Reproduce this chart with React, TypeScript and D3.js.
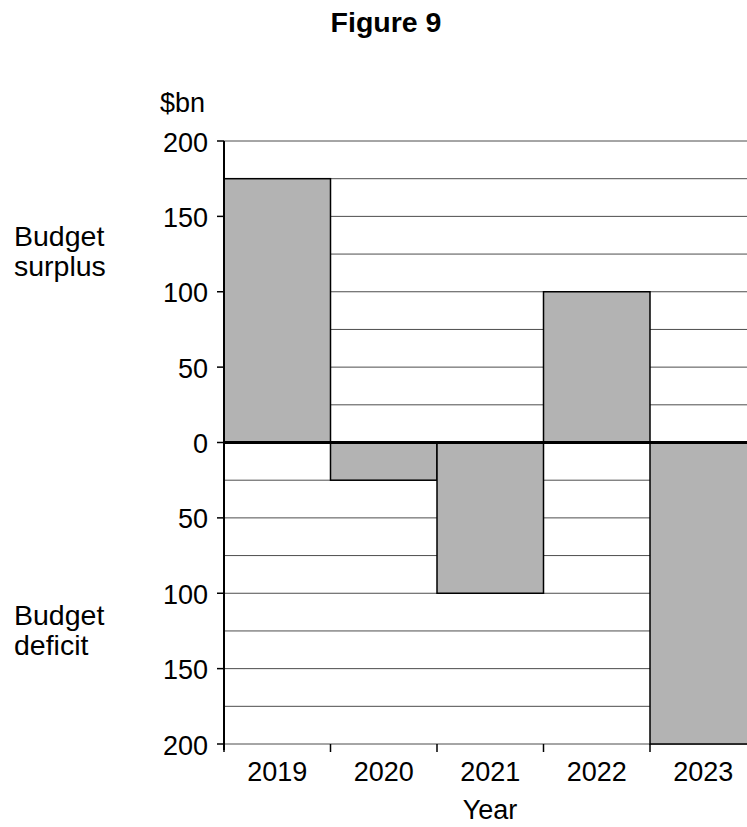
import React from "react";
import * as d3 from "d3";

const years = ["2019", "2020", "2021", "2022", "2023"];
const balance = [175, -25, -100, 100, -200];
const majorTicks = [200, 150, 100, 50, 0, -50, -100, -150, -200];
const majorTickLabels = ["200", "150", "100", "50", "0", "50", "100", "150", "200"];
const gridValues = d3.range(-200, 201, 25);

const W = 747;
const H = 827;
const left = 224;
const bandW = 106.5;
const top = 141;
const bottom = 744;
const font = "'Liberation Sans', Arial, sans-serif";
const fs = 27;

export default function App() {
  const x = d3.scaleBand<string>().domain(years).range([left, left + bandW * years.length]).padding(0);
  const y = d3.scaleLinear().domain([-200, 200]).range([bottom, top]);
  const boundaries = years.map((yr) => x(yr) as number);

  return (
    <svg width={W} height={H} style={{ position: "absolute", left: 0, top: 0, background: "#fff" }}>
      <text x={386} y={32} textAnchor="middle" fontFamily={font} fontWeight="bold" fontSize={28.5}>
        Figure 9
      </text>
      <text x={160} y={112} fontFamily={font} fontSize={fs}>$bn</text>
      <text fontFamily={font} fontSize={28.5}>
        <tspan x={14} y={246}>Budget</tspan>
        <tspan x={14} y={276}>surplus</tspan>
      </text>
      <text fontFamily={font} fontSize={28.5}>
        <tspan x={14} y={625}>Budget</tspan>
        <tspan x={14} y={655}>deficit</tspan>
      </text>

      {gridValues.filter((v) => v !== 0).map((v) => (
        <line key={"g" + v} x1={left} x2={W + 20} y1={y(v)} y2={y(v)} stroke="#4d4d4d" strokeWidth={1} />
      ))}

      {years.map((yr, i) => {
        const v = balance[i];
        const y0 = y(Math.max(0, v));
        const y1 = y(Math.min(0, v));
        return (
          <rect key={yr} x={x(yr)} y={y0} width={x.bandwidth()} height={y1 - y0}
            fill="#b3b3b3" stroke="#000" strokeWidth={1.5} />
        );
      })}

      <line x1={left} x2={W + 20} y1={y(0)} y2={y(0)} stroke="#000" strokeWidth={3} />
      <line x1={left} x2={left} y1={y(200)} y2={bottom + 6} stroke="#000" strokeWidth={2} />

      {majorTicks.map((v, i) => (
        <g key={"t" + i}>
          <line x1={left - 7} x2={left} y1={y(v)} y2={y(v)} stroke="#000" strokeWidth={1.5} />
          <text x={208} y={y(v) + 10.5} textAnchor="end" fontFamily={font} fontSize={fs}>
            {majorTickLabels[i]}
          </text>
        </g>
      ))}

      {boundaries.map((bx, i) => (
        <line key={"b" + i} x1={bx} x2={bx} y1={bottom} y2={bottom + 8} stroke="#000" strokeWidth={1.5} />
      ))}

      {years.map((yr) => (
        <text key={"l" + yr} x={(x(yr) as number) + x.bandwidth() / 2} y={781} textAnchor="middle"
          fontFamily={font} fontSize={fs}>
          {yr}
        </text>
      ))}
      <text x={490} y={819} textAnchor="middle" fontFamily={font} fontSize={fs}>Year</text>
    </svg>
  );
}
